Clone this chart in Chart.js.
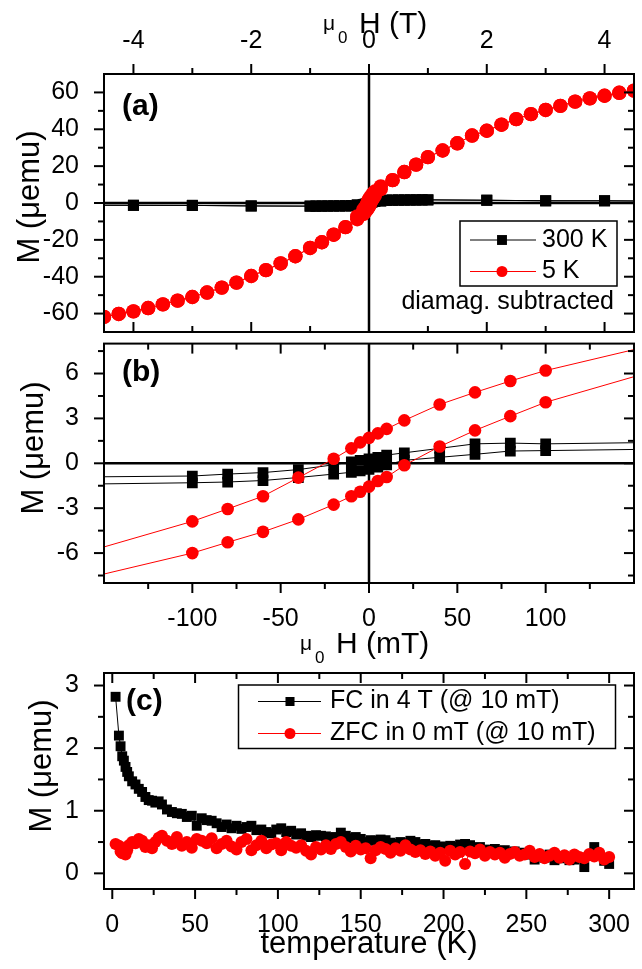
<!DOCTYPE html>
<html lang="en">
<head>
<meta charset="utf-8">
<title>Magnetization loops and FC/ZFC</title>
<script src="https://cdn.jsdelivr.net/npm/chart.js@4.4.0/dist/chart.umd.min.js"></script>
<style>
  body { margin: 0; background: #fff; width: 642px; height: 969px; position: relative; overflow: hidden; }
  .panel { position: absolute; left: 0; width: 642px; }
</style>
</head>
<body>
<div class="panel" style="top:0;height:340px"><canvas id="pa"></canvas></div>
<div class="panel" style="top:336px;height:330px"><canvas id="pb"></canvas></div>
<div class="panel" style="top:666px;height:303px"><canvas id="pc"></canvas></div>

<script>
var FONT = "'Liberation Sans', Arial, sans-serif";
Chart.defaults.font.family = FONT;
Chart.defaults.color = '#000';

// ---- panel (a): high field part of the loops, field in T ----
var fieldHigh5K = [0.4, 0.6, 0.8, 1.0, 1.25, 1.5, 1.75, 2.0, 2.25, 2.5, 2.75, 3.0, 3.25, 3.5, 3.75, 4.0, 4.25, 4.5];
var m5KPos = [12.4, 16.8, 20.8, 24.9, 28.5, 32.4, 36.6, 39.2, 42.5, 45.5, 48.2, 50.5, 52.7, 55.0, 56.8, 58.2, 59.8, 61.0];
var m5KNeg = [-13.1, -17.2, -21.3, -24.4, -28.9, -32.8, -36.4, -39.6, -43.2, -45.9, -48.6, -51.0, -53.0, -55.0, -57.0, -58.8, -60.2, -61.8];
var fieldHigh300K = [0.3, 0.4, 0.5, 0.6, 0.7, 0.8, 0.9, 1.0, 2, 3, 4, 5];
var m300KPos = [1.5, 1.55, 1.6, 1.6, 1.65, 1.65, 1.7, 1.7, 1.5, 1.2, 1.2, 1.0];
var m300KNeg = [-1.5, -1.55, -1.6, -1.6, -1.65, -1.65, -1.7, -1.7, -1.6, -1.3, -1.25, -1.2];

// ---- panel (b): low field loop, field in mT ----
var fieldLow = [-200, -100, -80, -60, -40, -20, -10, -5, 0, 5, 10, 20, 40, 60, 80, 100, 200];
var m5KDown = [-7.3, -3.88, -3.05, -2.2, -0.96, 0.3, 1.0, 1.4, 1.7, 2.0, 2.3, 2.87, 3.93, 4.74, 5.5, 6.2, 9.0];
var m5KUp = [-8.8, -6.0, -5.28, -4.58, -3.75, -2.76, -2.2, -1.9, -1.56, -1.18, -0.92, -0.13, 1.12, 2.2, 3.15, 4.08, 7.5];
var m300KDown = [-0.95, -0.85, -0.72, -0.62, -0.42, -0.1, 0.1, 0.2, 0.3, 0.4, 0.55, 0.7, 1.0, 1.3, 1.35, 1.3, 1.45];
var m300KUp = [-1.45, -1.3, -1.25, -1.15, -0.95, -0.72, -0.6, -0.5, -0.4, -0.25, -0.1, 0.2, 0.4, 0.6, 0.82, 0.85, 1.0];

// ---- panel (c): M vs temperature ----
var tempsK = [2, 4, 5, 6, 7, 8, 9, 10, 12, 14, 16, 18, 20, 22, 24, 26, 28, 30,
  33, 36, 39, 42, 45, 48, 51, 54, 57, 60,
  63, 66, 69, 72, 75, 78, 81, 84, 87, 90,
  93, 96, 99, 102, 105, 108, 111, 114, 117, 120,
  123, 126, 129, 132, 135, 138, 141, 144, 147, 150,
  153, 156, 159, 162, 165, 168, 171, 174, 177, 180,
  183, 186, 189, 192, 195, 198, 201, 204, 207, 210,
  213, 216, 219, 222, 225, 228, 231, 234, 237, 240,
  243, 246, 249, 252, 255, 258, 261, 264, 267, 270,
  273, 276, 279, 282, 285, 288, 291, 294, 297, 300];
var mFC = [2.82, 2.20, 2.03, 1.87, 1.80, 1.70, 1.62, 1.55, 1.47, 1.42, 1.35, 1.30, 1.22, 1.17, 1.16, 1.13, 1.15, 1.10,
  1.02, 0.98, 0.96, 0.95, 0.90, 0.92, 0.76, 0.88, 0.85, 0.84,
  0.80, 0.74, 0.78, 0.72, 0.76, 0.71, 0.74, 0.76, 0.69, 0.70,
  0.66, 0.64, 0.70, 0.72, 0.66, 0.68, 0.62, 0.64, 0.60, 0.58,
  0.61, 0.60, 0.59, 0.57, 0.58, 0.65, 0.60, 0.56, 0.58, 0.55,
  0.50, 0.53, 0.52, 0.54, 0.53, 0.49, 0.47, 0.50, 0.48, 0.52,
  0.50, 0.46, 0.47, 0.44, 0.45, 0.43, 0.42, 0.44, 0.42, 0.46,
  0.47, 0.45, 0.40, 0.42, 0.38, 0.37, 0.39, 0.36, 0.37, 0.33,
  0.35, 0.31, 0.33, 0.30, 0.22, 0.28, 0.25, 0.30, 0.21, 0.24,
  0.27, 0.21, 0.22, 0.25, 0.10, 0.28, 0.42, 0.30, 0.20, 0.15];
var mZFC = [0.47, 0.44, 0.35, 0.32, 0.40, 0.30, 0.37, 0.45, 0.50, 0.48, 0.55, 0.52, 0.42, 0.45, 0.40, 0.50, 0.57, 0.60,
  0.52, 0.47, 0.58, 0.44, 0.50, 0.41, 0.55, 0.52, 0.48, 0.56,
  0.40, 0.47, 0.52, 0.43, 0.38, 0.50, 0.55, 0.37, 0.45, 0.52,
  0.40, 0.46, 0.48, 0.37, 0.50, 0.44, 0.41, 0.45, 0.36, 0.30,
  0.42, 0.38, 0.45, 0.39, 0.47, 0.50, 0.42, 0.35, 0.44, 0.38,
  0.40, 0.24, 0.37, 0.42, 0.39, 0.33, 0.40, 0.36, 0.45, 0.38,
  0.34, 0.37, 0.31, 0.35, 0.28, 0.33, 0.20, 0.36, 0.30, 0.34,
  0.15, 0.35, 0.32, 0.38, 0.28, 0.34, 0.30, 0.33, 0.25, 0.31,
  0.34, 0.28, 0.30, 0.36, 0.26, 0.31, 0.24, 0.28, 0.33, 0.25,
  0.29, 0.22, 0.30, 0.26, 0.24, 0.31, 0.27, 0.33, 0.22, 0.26];

// ---- tick labels ----
var ticksAField = [-4, -2, 0, 2, 4];
var ticksAM = [-60, -40, -20, 0, 20, 40, 60];
var ticksBField = [-100, -50, 0, 50, 100];
var ticksBM = [-6, -3, 0, 3, 6];
var ticksCT = [0, 50, 100, 150, 200, 250, 300];
var ticksCM = [0, 1, 2, 3];

var RED = '#ff0000', BLACK = '#000000';

function pts(xs, ys, sx) {
  return xs.map(function (x, i) { return { x: x * sx, y: ys[i] }; });
}
// full loop: coming down from +H, then back up from -H
function loop(hiF, hiPos, hiNeg, lowDown, lowUp, lowScale) {
  return [].concat(
    pts(hiF, hiPos, 1).reverse(), pts(fieldLow, lowDown, lowScale).reverse(), pts(hiF, hiNeg, -1),
    pts(hiF, hiNeg, -1).reverse(), pts(fieldLow, lowUp, lowScale), pts(hiF, hiPos, 1));
}

function minorTicks(major, min, max) {
  var step = major[1] - major[0], out = [];
  for (var v = major[0] - step / 2; v < max; v += step) {
    if (v > min && major.indexOf(v) < 0) out.push(v);
  }
  return out;
}

function drawTicks(chart, c) {
  var ctx = chart.ctx, a = chart.chartArea, xs = chart.scales.x, ys = chart.scales.y;
  ctx.save();
  ctx.strokeStyle = BLACK;
  ctx.lineWidth = 2;
  function seg(x0, y0, x1, y1) { ctx.beginPath(); ctx.moveTo(x0, y0); ctx.lineTo(x1, y1); ctx.stroke(); }
  [[c.xMajor, 10], [minorTicks(c.xMajor, xs.min, xs.max), 6]].forEach(function (g) {
    g[0].forEach(function (v) {
      var p = xs.getPixelForValue(v);
      seg(p, a.top, p, a.top + (c.topOut ? -g[1] : g[1]));
      seg(p, a.bottom, p, a.bottom + (c.bottomOut ? g[1] : -g[1]));
    });
  });
  [[c.yMajor, 10], [minorTicks(c.yMajor, ys.min, ys.max), 6]].forEach(function (g) {
    g[0].forEach(function (v) {
      var p = ys.getPixelForValue(v);
      seg(a.left, p, a.left - g[1], p);
      seg(a.right, p, a.right - g[1], p);
    });
  });
  ctx.strokeRect(a.left, a.top, a.right - a.left, a.bottom - a.top);
  ctx.restore();
}

function drawLegend(chart, L) {
  var ctx = chart.ctx;
  ctx.save();
  if (L.box) {
    ctx.strokeStyle = BLACK;
    ctx.lineWidth = 1.5;
    ctx.strokeRect(L.box[0], L.box[1], L.box[2] - L.box[0], L.box[3] - L.box[1]);
  }
  L.rows.forEach(function (row) {
    var ds = chart.data.datasets[row.ds];
    ctx.strokeStyle = ds.borderColor;
    ctx.lineWidth = 1;
    ctx.beginPath(); ctx.moveTo(L.lineX[0], row.y); ctx.lineTo(L.lineX[1], row.y); ctx.stroke();
    ctx.fillStyle = ds.pointBackgroundColor;
    Chart.helpers.drawPoint(ctx, { pointStyle: ds.pointStyle, radius: row.r, borderWidth: 0, rotation: 0 }, L.markX, row.y);
    ctx.fillStyle = BLACK;
    ctx.font = L.size + 'px ' + FONT;
    ctx.textBaseline = 'middle';
    ctx.textAlign = 'left';
    ctx.fillText(ds.label, L.textX, row.y);
  });
  ctx.restore();
}

// "μ0 H (unit)" with subscript
function drawFieldTitle(ctx, t) {
  ctx.save();
  ctx.fillStyle = BLACK;
  ctx.textBaseline = 'alphabetic';
  ctx.textAlign = 'left';
  ctx.font = '21px ' + FONT;
  ctx.fillText('\u03bc', t.x, t.base - 3);
  ctx.font = '17px ' + FONT;
  ctx.fillText('0', t.x + 15, t.base + 10);
  ctx.font = '30px ' + FONT;
  ctx.fillText('H ' + t.unit, t.x + 36, t.base);
  ctx.restore();
}

function drawText(ctx, txt, x, y, font, align, rot) {
  ctx.save();
  ctx.fillStyle = BLACK;
  ctx.font = font;
  ctx.textAlign = align || 'left';
  ctx.textBaseline = 'middle';
  ctx.translate(x, y);
  if (rot) ctx.rotate(rot);
  ctx.fillText(txt, 0, 0);
  ctx.restore();
}

function deco(c) {
  return {
    id: 'deco',
    beforeDatasetsDraw: function (chart) {
      if (!c.zeroLines) return;
      var ctx = chart.ctx, a = chart.chartArea;
      var px = chart.scales.x.getPixelForValue(0), py = chart.scales.y.getPixelForValue(0);
      ctx.save();
      ctx.strokeStyle = BLACK;
      ctx.lineWidth = 2.5;
      ctx.beginPath();
      ctx.moveTo(px, a.top); ctx.lineTo(px, a.bottom);
      ctx.moveTo(a.left, py); ctx.lineTo(a.right, py);
      ctx.stroke();
      ctx.restore();
    },
    afterDraw: function (chart) {
      var ctx = chart.ctx;
      drawTicks(chart, c);
      drawText(ctx, c.letter[0], c.letter[1], c.letter[2], 'bold 30px ' + FONT, 'left');
      drawText(ctx, 'M (\u03bcemu)', c.yTitle[0], c.yTitle[1], '31px ' + FONT, 'center', -Math.PI / 2);
      if (c.fieldTitle) drawFieldTitle(ctx, c.fieldTitle);
      if (c.xTitle) drawText(ctx, c.xTitle[0], c.xTitle[1], c.xTitle[2], '31px ' + FONT, 'center');
      if (c.legend) drawLegend(chart, c.legend);
      if (c.note) drawText(ctx, c.note[0], c.note[1], c.note[2], '25px ' + FONT, 'right');
    }
  };
}

// fixed-size axis box; label overhang padding removed so the plot frame sits where asked
function axis(min, max, tickVals, pos, size, pad) {
  var horiz = pos === 'top' || pos === 'bottom';
  return {
    type: 'linear', position: pos, min: min, max: max,
    grid: { display: false }, border: { display: false },
    afterBuildTicks: function (s) { s.ticks = tickVals.map(function (v) { return { value: v }; }); },
    afterFit: function (s) {
      if (horiz) s.height = size; else s.width = size;
      s.paddingTop = 0; s.paddingBottom = 0; s.paddingLeft = 0; s.paddingRight = 0;
    },
    ticks: { font: { size: 25 }, color: BLACK, autoSkip: false, maxRotation: 0, padding: pad }
  };
}

function makeChart(id, datasets, scales, padding, c) {
  return new Chart(document.getElementById(id), {
    type: 'scatter',
    data: { datasets: datasets },
    options: {
      responsive: true, maintainAspectRatio: false, animation: false,
      layout: { padding: padding },
      plugins: { legend: { display: false }, tooltip: { enabled: false } },
      scales: scales
    },
    plugins: [deco(c)]
  });
}

function series(label, data, color, style, r, order) {
  return {
    label: label, data: data, showLine: true,
    borderColor: color, borderWidth: 1,
    pointStyle: style, pointRadius: r, pointBackgroundColor: color, pointBorderWidth: 0,
    order: order
  };
}

// ---------- (a) ----------
makeChart('pa', [
  series('300 K', loop(fieldHigh300K, m300KPos, m300KNeg, m300KDown, m300KUp, 0.001), BLACK, 'rect', 7.8, 1),
  series('5 K', loop(fieldHigh5K, m5KPos, m5KNeg, m5KDown, m5KUp, 0.001), RED, 'circle', 7.2, 0)
], {
  x: axis(-4.5, 4.5, ticksAField, 'top', 74, 10),
  y: axis(-70, 70, ticksAM, 'left', 104, 17)
}, { top: 0, right: 8, bottom: 8, left: 0 }, {
  zeroLines: true, topOut: true, bottomOut: false,
  xMajor: ticksAField, yMajor: ticksAM,
  letter: ['(a)', 122, 107], yTitle: [30, 197],
  fieldTitle: { x: 323, base: 33, unit: '(T)' },
  legend: { box: [460, 221, 617, 286], lineX: [470, 536], markX: 502, textX: 542, size: 25,
    rows: [{ ds: 0, y: 240, r: 7 }, { ds: 1, y: 271.5, r: 5.5 }] },
  note: ['diamag. subtracted', 614, 302]
});

// ---------- (b) ----------
makeChart('pb', [
  series('300 K', [].concat(pts(fieldLow, m300KDown, 1).reverse(), pts(fieldLow, m300KUp, 1)), BLACK, 'rect', 7.6, 1),
  series('5 K', [].concat(pts(fieldLow, m5KDown, 1).reverse(), pts(fieldLow, m5KUp, 1)), RED, 'circle', 6.3, 0)
], {
  x: axis(-150, 150, ticksBField, 'bottom', 83, 13),
  y: axis(-8, 8, ticksBM, 'left', 104, 17)
}, { top: 4, right: 8, bottom: 0, left: 0 }, {
  zeroLines: true, topOut: false, bottomOut: true,
  xMajor: ticksBField, yMajor: ticksBM,
  letter: ['(b)', 122, 37], yTitle: [34, 112],
  fieldTitle: { x: 300, base: 317, unit: '(mT)' }
});

// ---------- (c) ----------
makeChart('pc', [
  series('FC in 4 T (@ 10 mT)', pts(tempsK, mFC, 1), BLACK, 'rect', 7, 1),
  series('ZFC in 0 mT (@ 10 mT)', pts(tempsK, mZFC, 1), RED, 'circle', 6, 0)
], {
  x: axis(-5, 315, ticksCT, 'bottom', 80, 13),
  y: axis(-0.25, 3.2, ticksCM, 'left', 104, 17)
}, { top: 4, right: 8, bottom: 0, left: 0 }, {
  zeroLines: false, topOut: false, bottomOut: true,
  xMajor: ticksCT, yMajor: ticksCM,
  letter: ['(c)', 126, 36], yTitle: [42, 100],
  xTitle: ['temperature (K)', 369, 278],
  legend: { box: [238.5, 19, 615.5, 82.5], lineX: [258, 321], markX: 290, textX: 330, size: 25,
    rows: [{ ds: 0, y: 35.5, r: 6.4 }, { ds: 1, y: 67.5, r: 5.5 }] }
});
</script>
</body>
</html>
